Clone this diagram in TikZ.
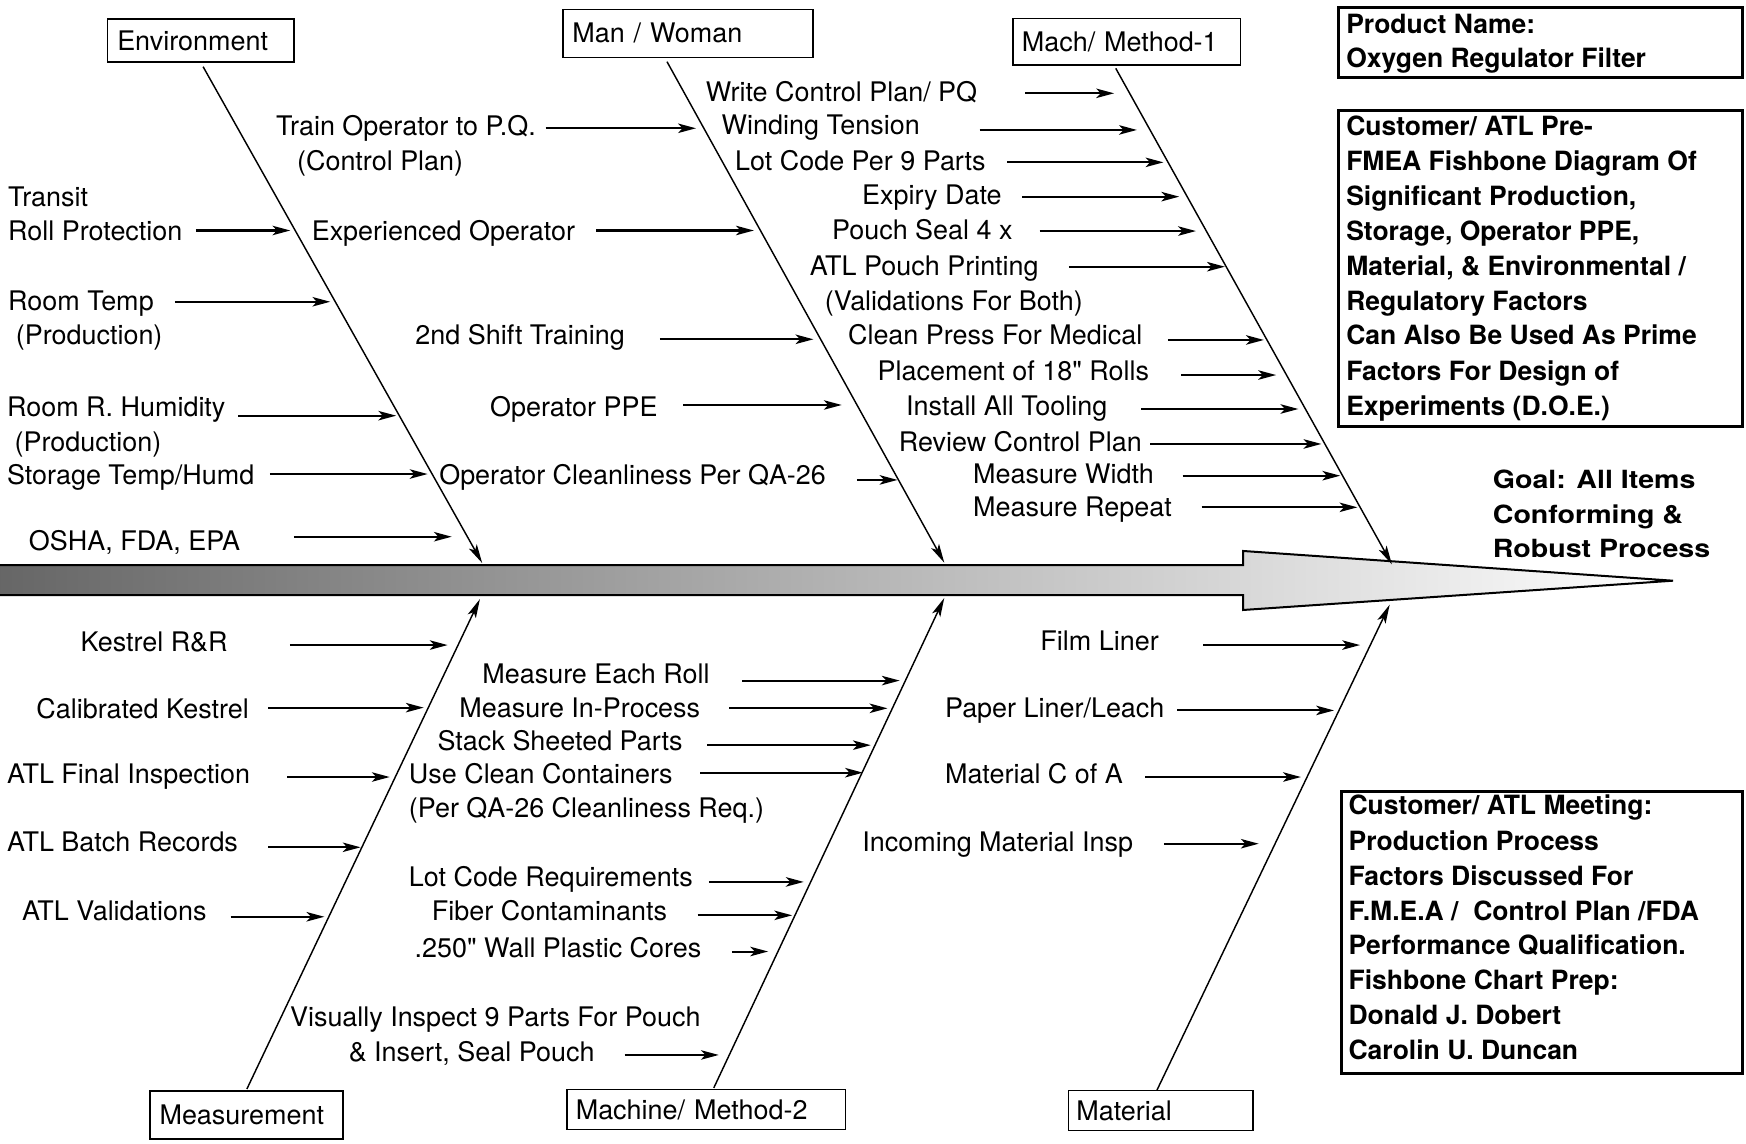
\documentclass[tikz,border=0pt]{standalone}
\usepackage{fontspec}
\setmainfont{TeX Gyre Heros}
\newfontfamily\plainq{TeX Gyre Heros}
\usepackage{graphicx}
\usetikzlibrary{arrows.meta}
\newcommand\dq{{\plainq\symbol{34}}}
\tikzset{
 lbl/.style={anchor=base west, inner sep=0pt, font=\fontsize{24.2}{28}\selectfont\frenchspacing},
 blbl/.style={anchor=base west, inner sep=0pt, font=\fontsize{23.8}{28}\selectfont\bfseries\frenchspacing},
 arr/.style={line width=1.8pt, -{Stealth[length=16pt,width=8.5pt,inset=4pt]}},
 bone/.style={line width=1.3pt, -{Stealth[length=17pt,width=8pt,inset=4pt]}},
 catbox/.style={draw, line width=1.5pt, align=left, inner ysep=0pt, text height=17.2pt, text depth=0pt, font=\fontsize{24.2}{28}\selectfont},
 infobox/.style={draw, line width=2.6pt, inner sep=0pt},
 goalfont/.style={anchor=base west, inner sep=0pt, font=\fontsize{22.5}{26}\selectfont\bfseries},
}
\newcommand\fbcause[7]{%
  \node[lbl] (#1) at (#2,#3) {#4};
  \coordinate (#1s) at (#5,#7);
  \coordinate (#1e) at (#6,#7);
  \draw[arr] (#1s) -- (#1e);
}
\begin{document}
\begin{tikzpicture}[x=1pt,y=-1pt]
\useasboundingbox (0,0) rectangle (1568,1027);

% spine
\shadedraw[left color=black!60, right color=white, line width=1.8pt, line join=miter]
  (-4,507.4) -- (1116.3,507.4) -- (1116.3,494.8) -- (1502.4,521.5) -- (1116.3,547.8) -- (1116.3,534.4) -- (-4,534.4) -- cycle;

% category boxes
\node[catbox, text width=150.1pt, minimum height=38.1pt, inner xsep=8.9pt] (env) at (180.35,36.35) {Environment};
\node[catbox, text width=207.6pt, minimum height=43.1pt, inner xsep=8.4pt] (man) at (617.8,29.95) {Man / Woman};
\node[catbox, text width=188.4pt, minimum height=41.9pt, inner xsep=7.9pt] (mach) at (1011.9,37.45) {Mach/ Method-1};
\node[catbox, text width=156.2pt, minimum height=42.8pt, inner xsep=8.3pt] (meas) at (221.4,1001.4) {Measurement};
\node[catbox, text width=234.2pt, minimum height=35.9pt, inner xsep=8.1pt] (macht) at (634.2,996.45) {Machine/ Method-2};
\node[catbox, text width=151.3pt, minimum height=35.9pt, inner xsep=7pt] (mat) at (1042.35,997.35) {Material};

% bones
\coordinate (envA) at (182.4,59.9);   \coordinate (envB) at (433,505.6);
\coordinate (manA) at (599,55.4);     \coordinate (manB) at (848,505.3);
\coordinate (machA) at (1002,61.4);   \coordinate (machB) at (1250,506.8);
\coordinate (measA) at (221.7,978);   \coordinate (measB) at (431,538);
\coordinate (machtA) at (641,977);    \coordinate (machtB) at (848,537);
\coordinate (matA) at (1039,979);     \coordinate (matB) at (1248,543);
\draw[bone] (envA) -- (envB);
\draw[bone] (manA) -- (manB);
\draw[bone] (machA) -- (machB);
\draw[bone] (measA) -- (measB);
\draw[bone] (machtA) -- (machtB);
\draw[bone] (matA) -- (matB);

% environment causes
\node[lbl] (transit) at (7.2,185) {Transit};
\fbcause{rollp}{7.2}{216.1}{Roll Protection}{176}{260.7}{207}
\fbcause{rtemp}{7.2}{278.4}{Room Temp}{157}{296.6}{271}
\node[lbl] (rtempb) at (14,309.8) {(Production)};
\fbcause{rhum}{6.2}{374.2}{Room R. Humidity}{214}{355.8}{373.3}
\node[lbl] (rhumb) at (12.9,405.6) {(Production)};
\fbcause{stor}{6.2}{434.7}{Storage Temp/Humd}{242.3}{384}{425.7}
\fbcause{osha}{25.8}{494}{OSHA, FDA, EPA}{264}{405.7}{482}

% man / woman causes
\fbcause{train}{247.8}{121.9}{Train Operator to P.Q.}{490}{625}{115.2}
\node[lbl] (trainb) at (266.6,152.7) {(Control Plan)};
\fbcause{exper}{279.8}{216}{Experienced Operator}{535.3}{677}{207}
\fbcause{shift}{372.9}{309.8}{2nd Shift Training}{592.6}{730.5}{304.7}
\fbcause{ppe}{440}{373.6}{Operator PPE}{613.7}{755.9}{363.7}
\fbcause{clean}{394.3}{434.7}{Operator Cleanliness Per QA-26}{769.4}{806}{431}

% mach / method-1 causes
\fbcause{wcp}{633.8}{91.3}{Write Control Plan/ PQ}{920.5}{1000.5}{83.8}
\fbcause{wind}{647.9}{121.2}{Winding Tension}{879.7}{1021}{116.7}
\fbcause{lotc}{660}{152.7}{Lot Code Per 9 Parts}{904.4}{1044.8}{145.8}
\fbcause{expd}{774}{184.1}{Expiry Date}{918}{1059}{176.6}
\fbcause{pseal}{747}{215.5}{Pouch Seal 4 x}{933.7}{1074}{207.5}
\fbcause{atlpp}{727}{247}{ATL Pouch Printing}{959.8}{1100}{239.5}
\node[lbl] (atlppb) at (740.6,278.4) {(Validations For Both)};
\fbcause{cpress}{761.4}{309.8}{Clean Press For Medical}{1048.8}{1135}{305.3}
\fbcause{place}{788}{341.3}{Placement of 18\dq{} Rolls}{1060.8}{1146}{336.8}
\fbcause{itool}{813.6}{372.7}{Install All Tooling}{1025}{1166}{367.3}
\fbcause{rcp}{807}{405.6}{Review Control Plan}{1032.8}{1186.7}{398.7}
\fbcause{mwid}{873.7}{434}{Measure Width}{1062}{1203.6}{427.2}
\fbcause{mrep}{873.7}{464}{Measure Repeat}{1079}{1219}{455.6}

% measurement causes
\fbcause{kest}{72.2}{585}{Kestrel R\&R}{260.4}{402}{579.3}
\fbcause{calk}{32.5}{644.8}{Calibrated Kestrel}{240.7}{380.5}{635.5}
\fbcause{afi}{6.2}{704}{ATL Final Inspection}{257.8}{350}{697.8}
\fbcause{abr}{6.2}{765}{ATL Batch Records}{240.8}{323.8}{760.9}
\fbcause{aval}{19.6}{827}{ATL Validations}{207.2}{291.3}{823.3}

% machine / method-2 causes
\fbcause{mer}{433}{614}{Measure Each Roll}{666.6}{808}{611.2}
\fbcause{mip}{412.4}{644}{Measure In-Process}{654.8}{797}{636.1}
\fbcause{ssp}{392.8}{674}{Stack Sheeted Parts}{635.1}{782}{669.2}
\fbcause{ucc}{367}{704}{Use Clean Containers}{628.9}{775}{693.9}
\node[lbl] (uccb) at (367,734) {(Per QA-26 Cleanliness Req.)};
\fbcause{lcr}{367}{796}{Lot Code Requirements}{636.7}{721.8}{792}
\fbcause{fib}{387.7}{827}{Fiber Contaminants}{626.4}{711.4}{822}
\fbcause{wpc}{372.2}{860}{.250\dq{} Wall Plastic Cores}{657.3}{689.8}{854.5}
\node[lbl] (vis) at (260.3,922) {Visually Inspect 9 Parts For Pouch};
\fbcause{ins}{313}{953}{\& Insert, Seal Pouch}{560.9}{645.5}{947.4}

% material causes
\fbcause{film}{934.2}{584}{Film Liner}{1080.5}{1221.4}{579.3}
\fbcause{paper}{848.5}{644}{Paper Liner/Leach}{1057}{1198}{638}
\fbcause{mcoa}{848.5}{704}{Material C of A}{1028.5}{1168.3}{697.8}
\fbcause{imi}{774.3}{765}{Incoming Material Insp}{1045.3}{1130.4}{757.7}

% goal
\node[goalfont] (goal1) at (1340.5,439) {\scalebox{1.14}[1]{Goal: All Items}};
\node[goalfont] (goal2) at (1340.5,470) {\scalebox{1.14}[1]{Conforming \&}};
\node[goalfont] (goal3) at (1340.5,501) {\scalebox{1.14}[1]{Robust Process}};

% info boxes
\node[infobox, minimum width=363pt, minimum height=63.5pt] (prod) at (1383.5,38.25) {};
\node[blbl] (p1) at (1208.8,29.9) {Product Name:};
\node[blbl] (p2) at (1208.8,60.8) {Oxygen Regulator Filter};

\node[infobox, minimum width=363pt, minimum height=284pt] (desc) at (1383.5,241) {};
\node[blbl] (d1) at (1208.8,122.1) {Customer/ ATL Pre-};
\node[blbl] (d2) at (1208.8,153.3) {FMEA Fishbone Diagram Of};
\node[blbl] (d3) at (1208.8,184.7) {Significant Production,};
\node[blbl] (d4) at (1208.8,216.1) {Storage, Operator PPE,};
\node[blbl] (d5) at (1208.8,247.6) {Material, \& Environmental /};
\node[blbl] (d6) at (1208.8,279) {Regulatory Factors};
\node[blbl] (d7) at (1208.8,309.8) {Can Also Be Used As Prime};
\node[blbl] (d8) at (1208.8,341.3) {Factors For Design of};
\node[blbl] (d9) at (1208.8,372.7) {Experiments (D.O.E.)};

\node[infobox, minimum width=360pt, minimum height=253pt] (meet) at (1385,837.5) {};
\node[blbl] (m1) at (1210.9,731.9) {Customer/ ATL Meeting:};
\node[blbl] (m2) at (1210.9,763.4) {Production Process};
\node[blbl] (m3) at (1210.9,794.8) {Factors Discussed For};
\node[blbl] (m4) at (1210.9,826.2) {F.M.E.A / \ Control Plan /FDA};
\node[blbl] (m5) at (1210.9,857.6) {Performance Qualification.};
\node[blbl] (m6) at (1210.9,889) {Fishbone Chart Prep:};
\node[blbl] (m7) at (1210.9,920.4) {Donald J. Dobert};
\node[blbl] (m8) at (1210.9,951.8) {Carolin U. Duncan};
\end{tikzpicture}
\end{document}
